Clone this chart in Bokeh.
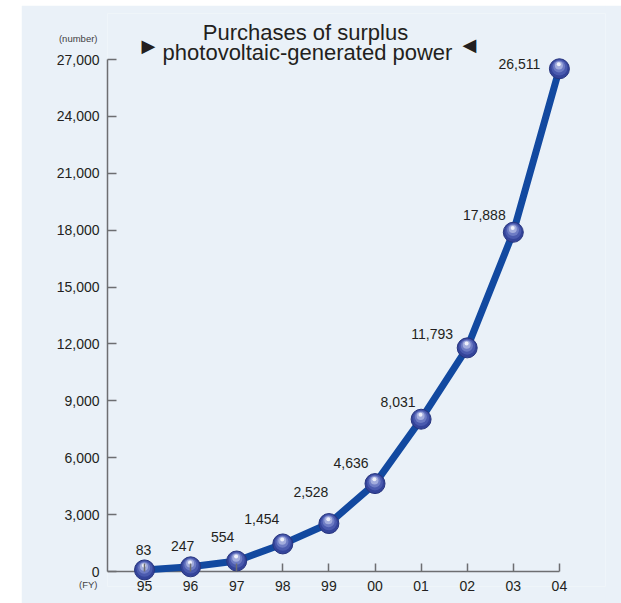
import numpy as np
from bokeh.plotting import figure
from bokeh.models import (Range1d, FixedTicker, Label, LabelSet, ColumnDataSource, Spacer,
                          LinearAxis)
from bokeh.layouts import row, column
from bokeh.core.properties import value
from bokeh.embed import file_html
from bokeh.resources import INLINE

# ---------------- data ----------------
years = ["95", "96", "97", "98", "99", "00", "01", "02", "03", "04"]
purchases = [83, 247, 554, 1454, 2528, 4636, 8031, 11793, 17888, 26511]
y_ticks = [0, 3000, 6000, 9000, 12000, 15000, 18000, 21000, 24000, 27000]
title_lines = ["Purchases of surplus", "photovoltaic-generated power"]
y_unit = "(number)"
x_unit = "(FY)"

# value-label offsets (screen px, relative to each point)
label_dx = [-1, -8, -14, -21, -18, -24, -23, -35, -29, -40]
label_dy = [20, 21, 24, 25, 32, 21, 17, 14, 17, 5]

# ---------------- geometry (figure pixel coords) ----------------
FIG_W, FIG_H = 600, 598
FRAME_L, FRAME_R, FRAME_T, FRAME_B = 86, 584, 8, 581
X0_PX, X_STEP = 123, 46.1          # pixel of first category, px per category
Y0_PX = 566                         # pixel of value 0 (x baseline)
Y_SCALE = 512 / 27000               # px per unit
AXIS_GAP = FRAME_B - Y0_PX          # frame bottom lies a bit below the baseline

x_start = (FRAME_L - X0_PX) / X_STEP
x_end = (FRAME_R - X0_PX) / X_STEP
y_start = -(FRAME_B - Y0_PX) / Y_SCALE
y_end = (Y0_PX - FRAME_T) / Y_SCALE


def dx(fx):
    return (fx - X0_PX) / X_STEP


def dy(fy):
    return (Y0_PX - fy) / Y_SCALE


BG = "#EAF1F8"
INK = "#231F20"
AXIS = "#6D6E71"
FONT = "Liberation Sans"

p = figure(width=FIG_W, height=FIG_H,
           x_range=Range1d(x_start, x_end), y_range=Range1d(y_start, y_end),
           output_backend="svg", toolbar_location=None,
           min_border_left=FRAME_L, min_border_right=FIG_W - FRAME_R,
           min_border_top=FRAME_T, min_border_bottom=FIG_H - FRAME_B,
           background_fill_color=BG, border_fill_color=BG,
           outline_line_color=None)
p.grid.visible = False

idx = np.arange(len(years))

# x baseline at value 0
p.segment(x0=[x_start], y0=[0], x1=[idx[-1]], y1=[0], line_color=AXIS, line_width=1.5)

# x axis (line hidden; ticks raised to the baseline)
xa = p.xaxis[0]
xa.ticker = FixedTicker(ticks=list(idx))
xa.major_label_overrides = {int(i): years[i] for i in idx}
xa.axis_line_color = None
xa.major_tick_in = AXIS_GAP + 8
xa.major_tick_out = -AXIS_GAP
xa.minor_tick_in = 0
xa.minor_tick_out = -AXIS_GAP
xa.major_label_standoff = -6
xa.major_tick_line_color = AXIS
xa.major_tick_line_width = 1.5
xa.major_label_text_font = FONT
xa.major_label_text_font_size = "14px"
xa.major_label_text_color = INK

# y axis
ya = p.yaxis[0]
ya.bounds = (0, y_ticks[-1])
ya.ticker = FixedTicker(ticks=y_ticks)
ya.major_label_overrides = {t: f"{t:,}" for t in y_ticks}
ya.major_tick_in = 9
ya.major_tick_out = 0
ya.minor_tick_in = 0
ya.minor_tick_out = 0
ya.major_label_standoff = 8
ya.axis_line_color = AXIS
ya.axis_line_width = 1.5
ya.major_tick_line_color = AXIS
ya.major_tick_line_width = 1.5
ya.major_label_text_font = FONT
ya.major_label_text_font_size = "14px"
ya.major_label_text_color = INK

# unit captions carried by an extra (line-less) left axis
unit_pos = {int(round(dy(33))): y_unit, int(round(dy(579))): x_unit}
ua = LinearAxis(ticker=FixedTicker(ticks=list(unit_pos.keys())),
                major_label_overrides=unit_pos,
                axis_line_color=None, major_tick_line_color=None,
                minor_tick_line_color=None, major_tick_in=0, major_tick_out=0,
                minor_tick_in=0, minor_tick_out=0,
                major_label_standoff=-44,
                major_label_text_font=FONT, major_label_text_font_size="9.5px",
                major_label_text_color="#414042")
p.add_layout(ua, "left")

# line
p.line(idx, purchases, line_width=7, line_color="#1249A0", line_join="round")

# sphere-like markers (layered circles)
vals = np.array(purchases, dtype=float)
layers = [
    (16, "#4A5AAE", 0.0, 1.2),
    (12, "#6E7CC4", -0.3, 2.2),
    (8, "#A3ADDD", -0.5, 3.2),
    (4, "#EEF0FA", -0.6, 4.4),
]
p.scatter(idx, vals, size=20, fill_color="#34449A", line_color="#27357F", line_width=1)
for size, col, ox, oy in layers:
    p.scatter(idx + ox / X_STEP, vals + oy / Y_SCALE, size=size,
              fill_color=col, line_color=None)

# value labels
src = ColumnDataSource(dict(x=idx, y=purchases, text=[f"{v:,}" for v in purchases],
                            ox=label_dx, oy=label_dy))
p.add_layout(LabelSet(x="x", y="y", text="text", source=src,
                      x_offset="ox", y_offset="oy",
                      text_align="center", text_baseline="middle",
                      text_font=value(FONT), text_font_size="14px", text_color=INK))

# title
p.add_layout(Label(x=dx(284), y=dy(27), text=title_lines[0], text_align="center",
                   text_baseline="alphabetic", text_font=FONT, text_font_size="22px",
                   text_color=INK))
p.add_layout(Label(x=dx(286), y=dy(47), text=title_lines[1], text_align="center",
                   text_baseline="alphabetic", text_font=FONT, text_font_size="22px",
                   text_color=INK))
p.add_layout(Label(x=dx(127), y=dy(39.5), text="\u25B6", text_align="center",
                   text_baseline="middle", text_font="DejaVu Sans", text_font_size="18px",
                   text_color=INK))
p.add_layout(Label(x=dx(448), y=dy(39), text="\u25C0", text_align="center",
                   text_baseline="middle", text_font="DejaVu Sans", text_font_size="18px",
                   text_color=INK))

layout = column(Spacer(width=FIG_W + 21, height=5), row(Spacer(width=21, height=FIG_H), p))
open("out.html", "w").write(file_html(layout, INLINE))
